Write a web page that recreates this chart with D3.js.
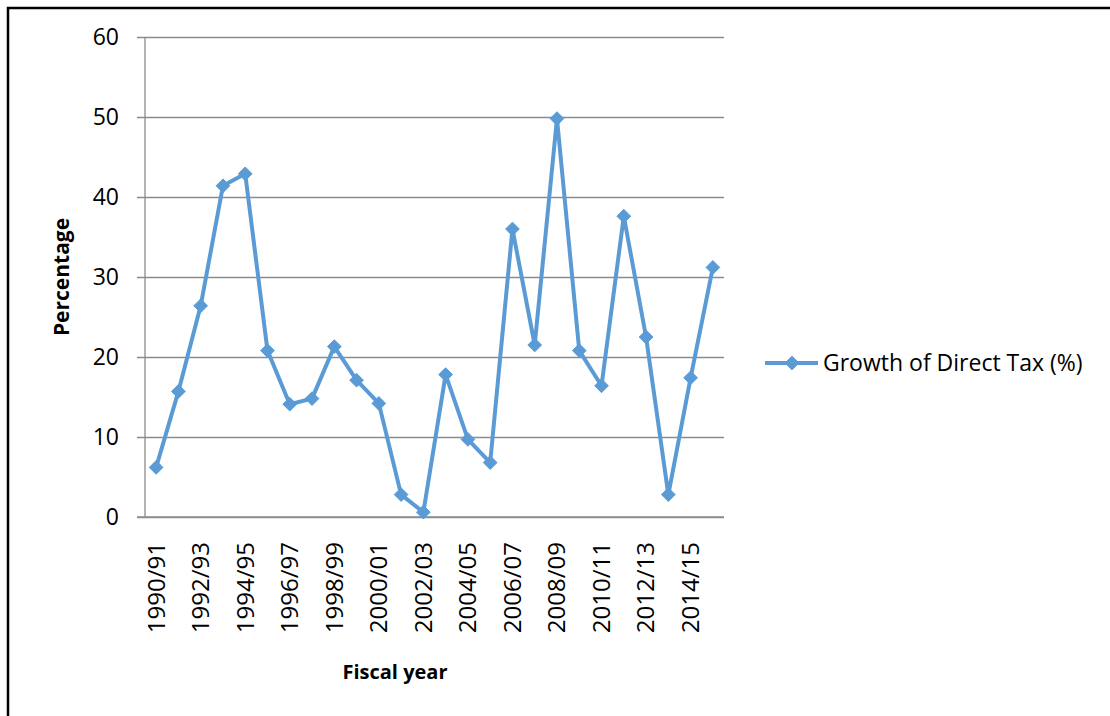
<!DOCTYPE html>
<html>
    <head>
        <meta charset="utf-8">
        <title>Growth of Direct Tax</title>
        <script type="text/javascript" src="https://d3js.org/d3.v7.min.js"></script>
        <style>
            body { margin: 0; background: #fff; }
            text { font-family: "Open Sans", sans-serif; fill: #000; }
        </style>
    </head>
    <body>
        <div class="div_d3"></div>

        <script type="text/javascript">
            var years = [
                '1990/91', '1991/92', '1992/93', '1993/94', '1994/95', '1995/96', '1996/97',
                '1997/98', '1998/99', '1999/00', '2000/01', '2001/02', '2002/03', '2003/04',
                '2004/05', '2005/06', '2006/07', '2007/08', '2008/09', '2009/10', '2010/11',
                '2011/12', '2012/13', '2013/14', '2014/15', '2015/16'
            ];
            var growth = [
                6.2, 15.7, 26.4, 41.4, 42.9, 20.8, 14.1, 14.8, 21.3, 17.1, 14.2, 2.8, 0.6,
                17.8, 9.7, 6.8, 36.0, 21.5, 49.8, 20.8, 16.4, 37.6, 22.5, 2.8, 17.4, 31.2
            ];
            var yTicks = [0, 10, 20, 30, 40, 50, 60];
            var seriesName = 'Growth of Direct Tax (%)';

            let width = 1110;
            let height = 716;
            let margin = { left: 145, top: 37, right: 386, bottom: 199 };
            let color = '#5b9bd5';

            let svg = d3.select('.div_d3')
                .append('svg')
                    .attr('width', width)
                    .attr('height', height);

            // outer frame, cut off at right and bottom like the source picture
            svg.append('rect')
                .attr('x', 8).attr('y', 8)
                .attr('width', width + 20).attr('height', height + 20)
                .attr('fill', 'none')
                .attr('stroke', '#000')
                .attr('stroke-width', 2.5);

            let x = d3.scaleBand()
                .domain(years)
                .range([margin.left, width - margin.right]);

            let y = d3.scaleLinear()
                .domain([0, 60])
                .range([height - margin.bottom, margin.top]);

            // gridlines + y axis
            let yAxis = svg.append('g')
                .attr('transform', `translate(${margin.left},0)`)
                .call(d3.axisLeft(y)
                    .tickValues(yTicks)
                    .tickSize(-(width - margin.left - margin.right))
                    .tickPadding(26));
            yAxis.select('.domain').remove();
            yAxis.selectAll('.tick line')
                .attr('x1', -8)
                .attr('stroke', '#8c8c8c')
                .attr('stroke-width', 1.3);
            yAxis.selectAll('.tick text')
                .style('font-size', '23px');

            svg.append('line')
                .attr('x1', margin.left).attr('x2', margin.left)
                .attr('y1', margin.top).attr('y2', height - margin.bottom)
                .attr('stroke', '#8c8c8c')
                .attr('stroke-width', 1.3);

            // x axis
            let xAxis = svg.append('g')
                .attr('transform', `translate(0,${height - margin.bottom})`)
                .call(d3.axisBottom(x)
                    .tickValues(years.filter((d, i) => i % 2 === 0))
                    .tickSize(0));
            xAxis.select('.domain').remove();
            xAxis.selectAll('.tick text')
                .attr('transform', 'rotate(-90)')
                .attr('text-anchor', 'end')
                .attr('x', -25)
                .attr('y', 0)
                .attr('dy', '0.35em')
                .style('font-size', '24px');

            svg.append('line')
                .attr('x1', margin.left - 8).attr('x2', width - margin.right)
                .attr('y1', height - margin.bottom).attr('y2', height - margin.bottom)
                .attr('stroke', '#8c8c8c')
                .attr('stroke-width', 1.3);

            // series
            let points = years.map((d, i) => [x(d) + x.bandwidth() / 2, y(growth[i])]);

            svg.append('path')
                .attr('d', d3.line()(points))
                .attr('fill', 'none')
                .attr('stroke', color)
                .attr('stroke-width', 4)
                .attr('stroke-linejoin', 'round');

            let diamond = d3.symbol().type(d3.symbolDiamond2).size(120);
            svg.selectAll('.marker')
                .data(points)
                .enter()
                .append('path')
                    .attr('class', 'marker')
                    .attr('d', diamond)
                    .attr('transform', d => `translate(${d[0]},${d[1]})`)
                    .attr('fill', color)
                    .attr('stroke', color)
                    .attr('stroke-width', 1);

            // axis titles
            svg.append('text')
                .attr('transform', 'translate(69,277) rotate(-90)')
                .attr('text-anchor', 'middle')
                .style('font-size', '21px')
                .style('font-weight', 'bold')
                .text('Percentage');

            svg.append('text')
                .attr('x', 395)
                .attr('y', 679)
                .attr('text-anchor', 'middle')
                .style('font-size', '20px')
                .style('font-weight', 'bold')
                .text('Fiscal year');

            // legend
            let legend = svg.append('g').attr('transform', 'translate(765,363)');
            legend.append('line')
                .attr('x1', 0).attr('x2', 53)
                .attr('stroke', color)
                .attr('stroke-width', 4);
            legend.append('path')
                .attr('d', diamond)
                .attr('transform', 'translate(27,0)')
                .attr('fill', color)
                .attr('stroke', color);
            legend.append('text')
                .attr('x', 58)
                .attr('dy', '0.35em')
                .style('font-size', '23px')
                .text(seriesName);
        </script>
    </body>
</html>
